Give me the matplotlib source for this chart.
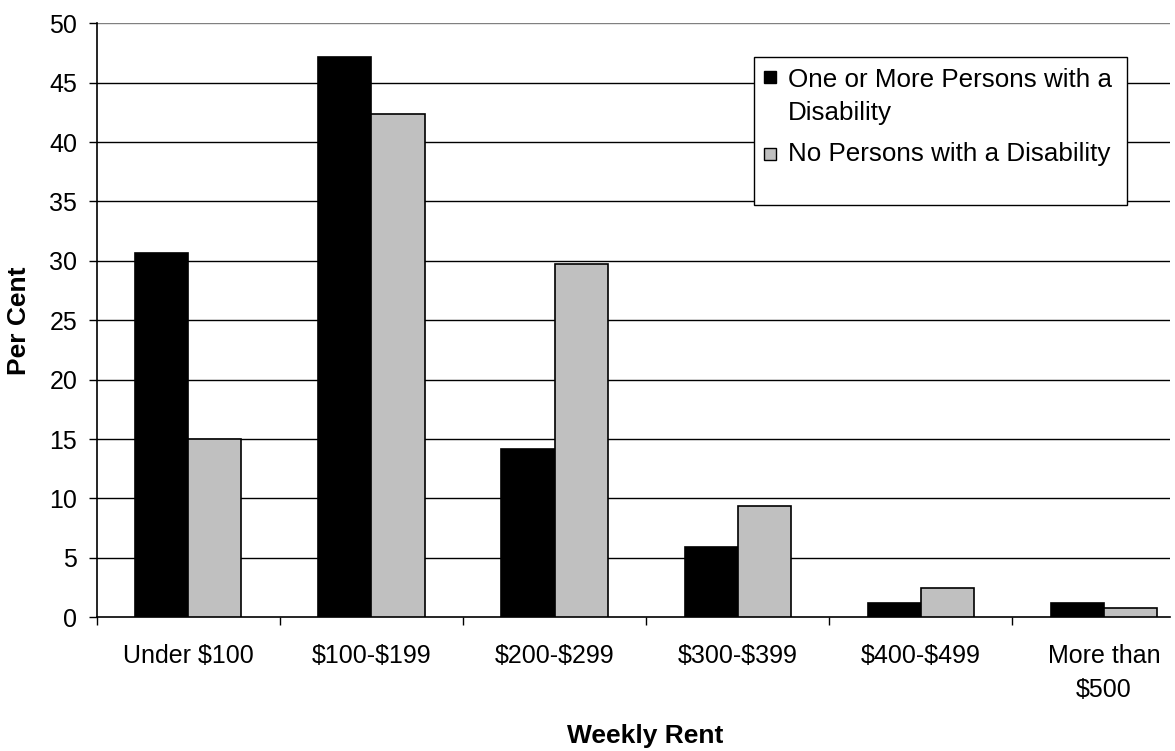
import numpy as np
import matplotlib
matplotlib.use("Agg")
import matplotlib.pyplot as plt
from matplotlib.patches import Rectangle

plt.rcParams['font.family'] = ['Liberation Sans', 'DejaVu Sans']

categories = ["Under $100", "$100-$199", "$200-$299", "$300-$399", "$400-$499", "More than\n$500"]
with_disability = [30.7, 47.2, 14.2, 5.9, 1.2, 1.2]
without_disability = [15.0, 42.4, 29.7, 9.4, 2.5, 0.8]
series_labels = ["One or More Persons with a\nDisability", "No Persons with a Disability"]
series_colors = ["#000000", "#C0C0C0"]

W, H = 1175, 751
fig = plt.figure(figsize=(W / 100, H / 100), dpi=100)
ax = fig.add_axes([96.7 / W, 1 - 617.3 / H, (1170 - 96.7) / W, (617.3 - 23.3) / H])

x = np.arange(len(categories))
bw = 0.29
ax.bar(x - bw / 2, with_disability, bw, color=series_colors[0], edgecolor="black", linewidth=1.2, zorder=3)
ax.bar(x + bw / 2, without_disability, bw, color=series_colors[1], edgecolor="black", linewidth=1.2, zorder=3)

# the original chart is cut off on the right, part way through the last category
ax.set_xlim(-0.5, 5.36)
ax.set_ylim(0, 50)
ax.set_yticks(np.arange(0, 51, 5))
for v in range(5, 51, 5):
    ax.axhline(v, color="black" if v < 50 else "#808080", linewidth=1.0, zorder=1)

ax.set_xticks(x)
ax.set_xticklabels(categories, fontsize=18, linespacing=1.55, parse_math=False)
ax.set_xticks(np.arange(-0.5, len(categories) - 0.5, 1), minor=True)
ax.tick_params(axis="x", which="major", length=0, pad=19)
ax.tick_params(axis="x", which="minor", length=6, width=1, direction="out")
ax.tick_params(axis="y", length=6, width=1, direction="out", pad=8, labelsize=18)

ax.spines["top"].set_visible(False)
ax.spines["right"].set_visible(False)
ax.spines["left"].set_linewidth(1.2)
ax.spines["bottom"].set_linewidth(1.2)

fig.text(19 / W, 1 - 321 / H, "Per Cent", rotation=90, fontsize=19, fontweight="bold",
         ha="center", va="center")
fig.text(645 / W, 1 - 736 / H, "Weekly Rent", fontsize=19, fontweight="bold",
         ha="center", va="center")

# legend box drawn by hand (Excel style, with empty space at the bottom)
def px(xp, yp):
    return xp / W, 1 - yp / H

lx0, ly0 = px(754, 205)
lx1, ly1 = px(1127, 57.3)
fig.patches.append(Rectangle((lx0, ly0), lx1 - lx0, ly1 - ly0, transform=fig.transFigure,
                             facecolor="white", edgecolor="black", linewidth=1.0, zorder=5))
square_tops = [71, 148]
text_baselines = [120, 161]  # baseline of the last line of each label
for color, label, sy, ty in zip(series_colors, series_labels, square_tops, text_baselines):
    sx0, sy0 = px(764, sy + 12)
    fig.patches.append(Rectangle((sx0, sy0), 12 / W, 12 / H, transform=fig.transFigure,
                                 facecolor=color, edgecolor="black", linewidth=1.0, zorder=6))
    tx, tyf = px(788, ty)
    fig.text(tx, tyf, label, fontsize=18.7, ha="left", va="baseline", linespacing=1.45, zorder=7)

fig.savefig("out.png", dpi=100)
